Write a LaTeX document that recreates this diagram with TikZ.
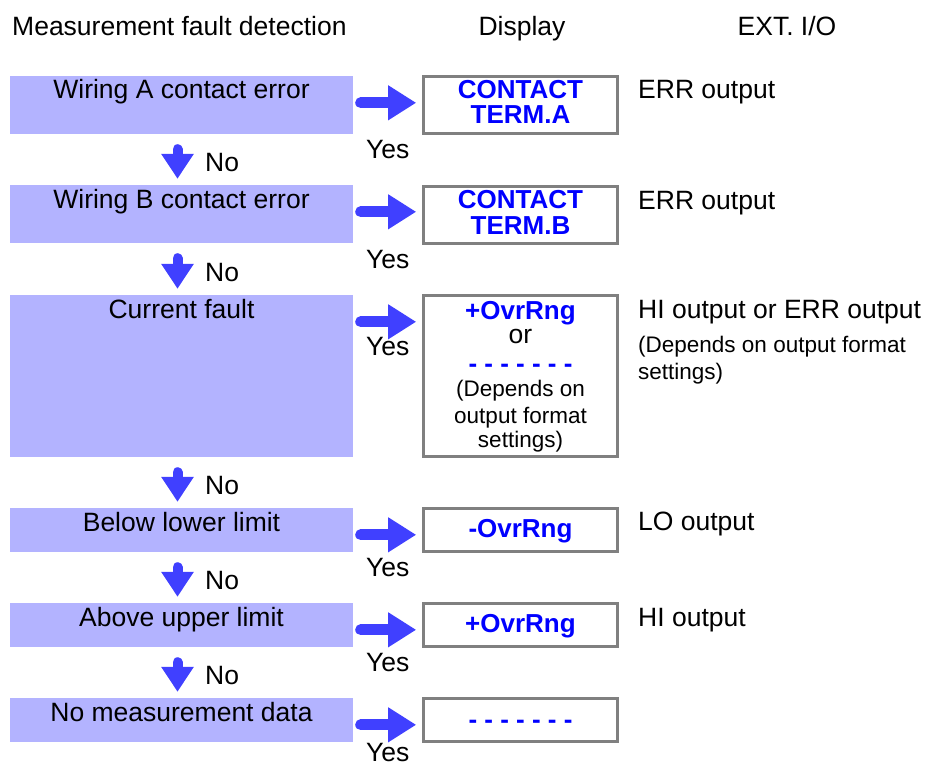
\documentclass[tikz,border=0pt]{standalone}
\usepackage{fontspec}
\setmainfont{Liberation Sans}
\usetikzlibrary{arrows.meta,calc}
\definecolor{lav}{HTML}{B3B3FF}
\definecolor{arrblue}{HTML}{4040FF}
\definecolor{txtblue}{HTML}{0000FF}
\definecolor{bordgray}{HTML}{808080}
\begin{document}
\begin{tikzpicture}[x=1pt,y=-1pt,
  fault/.style={fill=lav, draw=none, inner sep=0pt, minimum width=343pt},
  disp/.style={draw=bordgray, line width=3pt, fill=white, inner sep=0pt, minimum width=194pt},
  lbl/.style={anchor=base, inner sep=0pt, font=\fontsize{26.5}{26.5}\selectfont},
  lblw/.style={anchor=base west, inner sep=0pt, font=\fontsize{26.5}{26.5}\selectfont},
  smallw/.style={anchor=base west, inner sep=0pt, font=\fontsize{22.5}{22.5}\selectfont},
  smallc/.style={anchor=base, inner sep=0pt, font=\fontsize{22.5}{22.5}\selectfont},
  bluetxt/.style={anchor=base, inner sep=0pt, text=txtblue, font=\fontsize{26}{26}\selectfont\bfseries},
  rarrow/.style={draw=arrblue, line width=11pt, line cap=round, -{Triangle[width=33pt,length=28pt,fill=arrblue]}},
  darrow/.style={draw=arrblue, line width=10pt, line cap=round, -{Triangle[width=31pt,length=25pt,fill=arrblue]}}
]
\useasboundingbox (0,0) rectangle (925,765);

% headers
\node[lblw] (h1) at (12,35.5) {Measurement fault detection};
\node[lbl] (h2) at (522,35.5) {Display};
\node[lbl] (h3) at (787,35.5) {EXT. I/O};

% fault boxes
\node[fault, minimum height=58pt] (f1) at (181.5,105) {};
\node[fault, minimum height=58pt] (f2) at (181.5,214) {};
\node[fault, minimum height=162pt] (f3) at (181.5,376) {};
\node[fault, minimum height=44pt] (f4) at (181.5,530) {};
\node[fault, minimum height=44pt] (f5) at (181.5,625) {};
\node[fault, minimum height=44pt] (f6) at (181.5,720) {};

\node[lbl] (t1) at (181.5,99) {Wiring A contact error};
\node[lbl] (t2) at (181.5,208) {Wiring B contact error};
\node[lbl] (t3) at (181.5,318) {Current fault};
\node[lbl] (t4) at (181.5,531) {Below lower limit};
\node[lbl] (t5) at (181.5,626) {Above upper limit};
\node[lbl] (t6) at (181.5,721) {No measurement data};

% display boxes
\node[disp, minimum height=57pt] (d1) at (520.5,105) {};
\node[disp, minimum height=57pt] (d2) at (520.5,215) {};
\node[disp, minimum height=161pt] (d3) at (520.5,376) {};
\node[disp, minimum height=43pt] (d4) at (520.5,530) {};
\node[disp, minimum height=43pt] (d5) at (520.5,625) {};
\node[disp, minimum height=43pt] (d6) at (520.5,720) {};

\node[bluetxt] (d1a) at (520.5,98.5) {CONTACT};
\node[bluetxt] (d1b) at (520.5,124) {TERM.A};
\node[bluetxt] (d2a) at (520.5,208) {CONTACT};
\node[bluetxt] (d2b) at (520.5,234) {TERM.B};
\node[bluetxt] (d3a) at (520.5,319) {+OvrRng};
\node[lbl] (d3b) at (520.5,343) {or};
\node[bluetxt] (d3c) at (520.5,372) {- - - - - - -};
\node[smallc] (d3d) at (520.5,396) {(Depends on};
\node[smallc] (d3e) at (520.5,423) {output format};
\node[smallc] (d3f) at (520.5,447) {settings)};
\node[bluetxt] (d4a) at (520.5,537) {-OvrRng};
\node[bluetxt] (d5a) at (520.5,632) {+OvrRng};
\node[bluetxt] (d6a) at (520.5,728) {- - - - - - -};

% EXT I/O
\node[lblw] (e1) at (638,99) {ERR output};
\node[lblw] (e2) at (638,209) {ERR output};
\node[lblw] (e3) at (638,318) {HI output or ERR output};
\node[smallw] (e3b) at (638,352) {(Depends on output format};
\node[smallw] (e3c) at (638,379) {settings)};
\node[lblw] (e4) at (638,530) {LO output};
\node[lblw] (e5) at (638,626) {HI output};

% right arrows (Yes)
\foreach \i in {1,...,6}{
  \draw[rarrow] ($(f\i.north east)+(7.5,27)$) -- ($(f\i.north east)+(63,27)$);
}
\node[lblw] (y1) at (366,158) {Yes};
\node[lblw] (y2) at (366,268) {Yes};
\node[lblw] (y3) at (366,355) {Yes};
\node[lblw] (y4) at (366,576) {Yes};
\node[lblw] (y5) at (366,671) {Yes};
\node[lblw] (y6) at (366,761) {Yes};

% down arrows (No)
\draw[darrow] ($(f1.south)+(-4,15)$) -- ($(f2.north)+(-4,-6)$);
\draw[darrow] ($(f2.south)+(-4,15)$) -- ($(f3.north)+(-4,-6)$);
\draw[darrow] ($(f3.south)+(-4,15)$) -- ($(f4.north)+(-4,-6)$);
\draw[darrow] ($(f4.south)+(-4,15)$) -- ($(f5.north)+(-4,-6)$);
\draw[darrow] ($(f5.south)+(-4,15)$) -- ($(f6.north)+(-4,-6)$);
\node[lblw] (n1) at (205,171) {No};
\node[lblw] (n2) at (205,281) {No};
\node[lblw] (n3) at (205,494) {No};
\node[lblw] (n4) at (205,589) {No};
\node[lblw] (n5) at (205,684) {No};
\end{tikzpicture}
\end{document}
